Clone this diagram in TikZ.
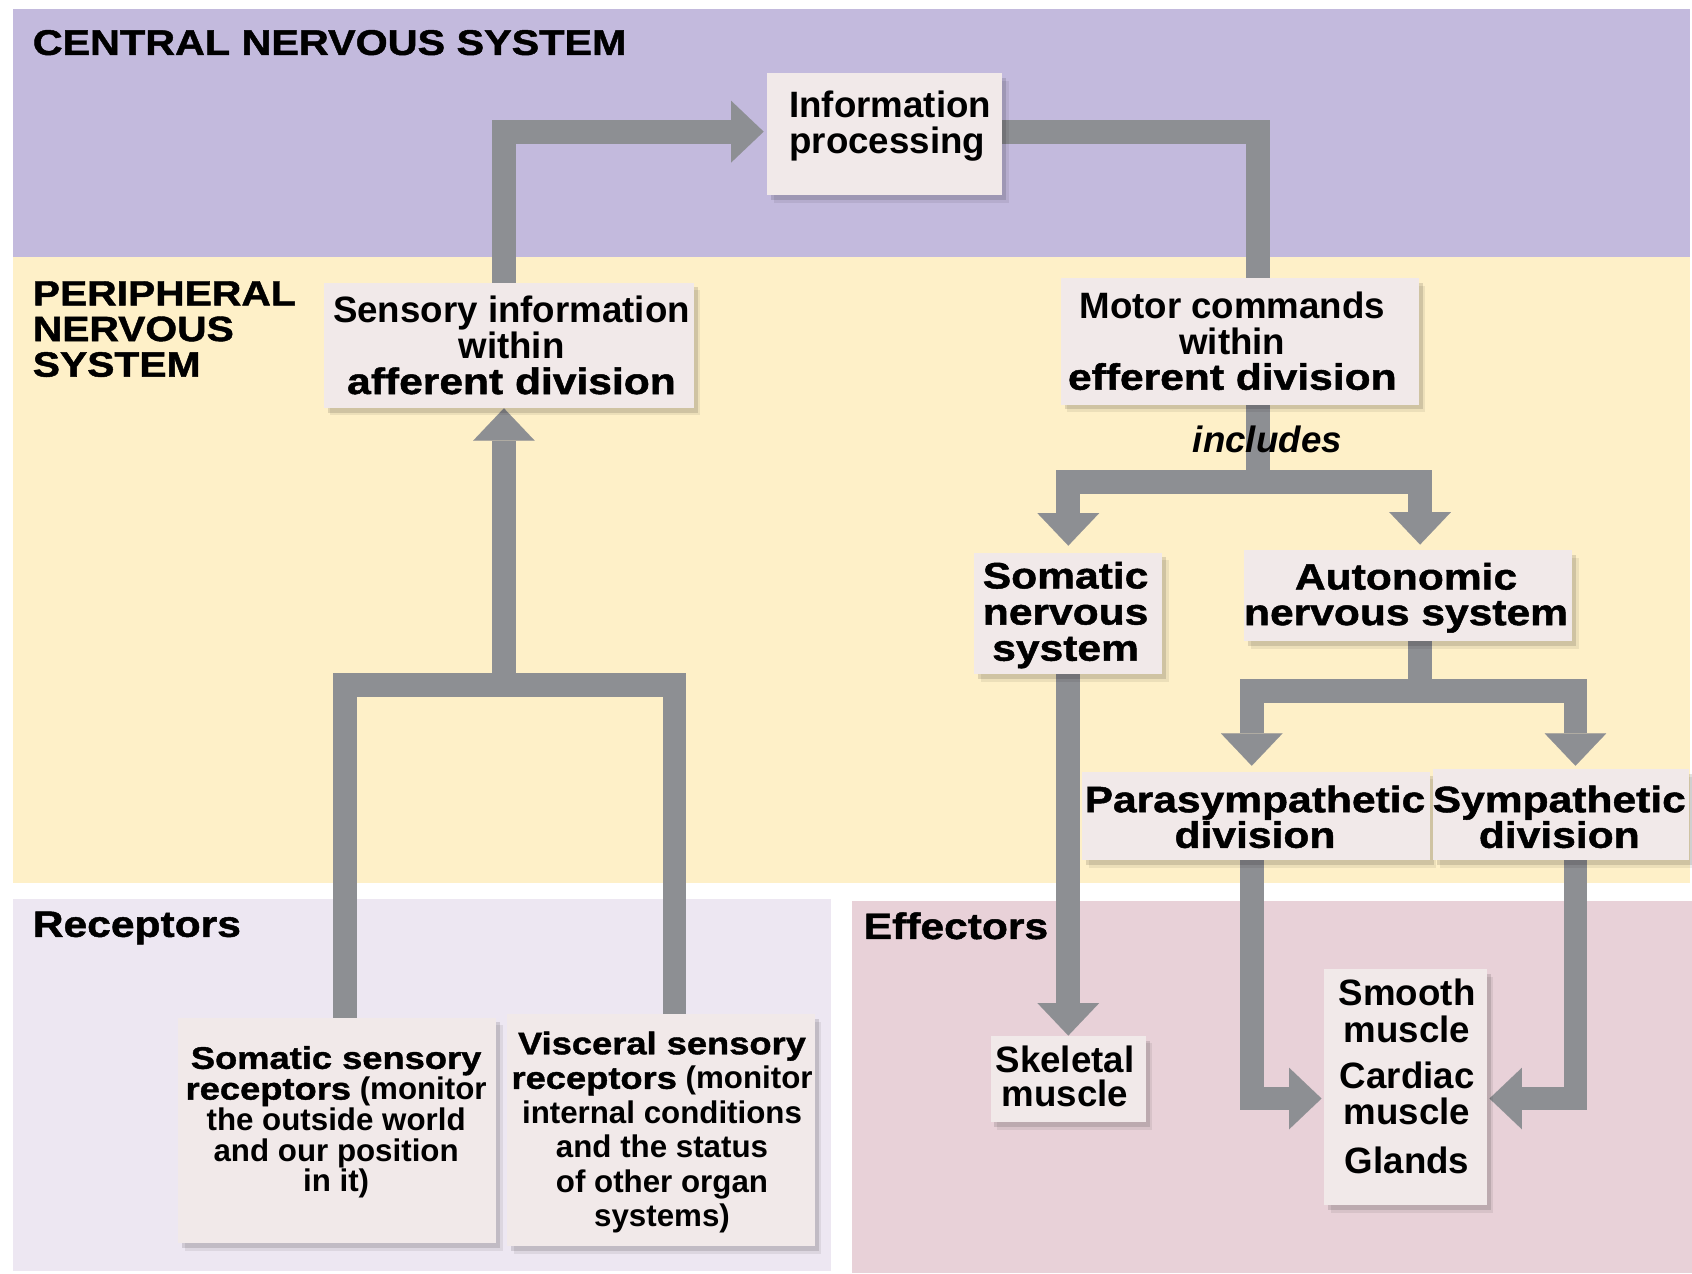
\documentclass[tikz,border=0pt]{standalone}
\usepackage{fontspec}
\setmainfont{Liberation Sans}
\newfontfamily\heavyfam{Liberation Sans}[FakeStretch=1.16,BoldFeatures={FakeBold=1.3}]
\usetikzlibrary{arrows.meta,shadows,calc}
\definecolor{cnsbg}{RGB}{195,186,221}
\definecolor{pnsbg}{RGB}{254,240,200}
\definecolor{recbg}{RGB}{237,231,242}
\definecolor{effbg}{RGB}{232,209,216}
\definecolor{connc}{RGB}{141,143,147}
\definecolor{boxbg}{RGB}{241,233,233}
\newcommand\hv[1]{{\heavyfam\bfseries #1}}
\pgfdeclarelayer{regions}
\pgfdeclarelayer{links}
\pgfsetlayers{regions,links,main}
\begin{document}
\begin{tikzpicture}[x=0.5pt,y=-0.5pt,
  conn/.style={draw=connc,line width=11pt,line join=miter,line cap=butt},
  headed/.style={-{Triangle[width=28.5pt,length=15pt,line width=0.01pt]}},
  panel/.style={fill=boxbg,draw=none,inner sep=0pt,
    drop shadow={shadow xshift=3pt,shadow yshift=-3.5pt,opacity=0.07,fill=black},
    drop shadow={shadow xshift=1.8pt,shadow yshift=-2.2pt,opacity=0.12,fill=black}},
  txt/.style={inner sep=0pt,align=center,font=\bfseries\fontsize{17}{16.5}\selectfont},
  htxt/.style={inner sep=0pt,align=center,font=\heavyfam\bfseries\fontsize{17}{16.5}\selectfont},
  rtxt/.style={inner sep=0pt,align=center,font=\bfseries\fontsize{14.5}{14.25}\selectfont},
  hdr/.style={inner sep=0pt,anchor=west,font=\heavyfam\bfseries\fontsize{17}{16.5}\selectfont}]
\useasboundingbox (0,0) rectangle (1568,1180);
\begin{pgfonlayer}{regions}
\fill[white] (0,0) rectangle (1568,1180);
\fill[cnsbg] (12,8) rectangle (1566,238);
\fill[pnsbg] (12,238) rectangle (1566,818);
\fill[recbg] (12,833) rectangle (770,1178);
\fill[effbg] (790,835) rectangle (1568,1180);
\end{pgfonlayer}
% region labels
\node[hdr,font=\heavyfam\bfseries\fontsize{16.5}{16.5}\selectfont] (cns) at (30,39.5) {CENTRAL NERVOUS SYSTEM};
\node[hdr,align=left,font=\heavyfam\bfseries\fontsize{16.3}{16.5}\selectfont] (pns) at (30,305) {PERIPHERAL\\NERVOUS\\SYSTEM};
\node[hdr] (rec) at (30,860) {Receptors};
\node[hdr] (effl) at (800,858) {Effectors};
% boxes
\node[panel,minimum width=109pt,minimum height=56.5pt] (info) at (820,124.5) {};
\node[panel,minimum width=171.5pt,minimum height=58pt] (sens) at (471.5,320) {};
\node[panel,minimum width=166pt,minimum height=58.5pt] (motor) at (1149,316.5) {};
\node[panel,minimum width=87pt,minimum height=56.5pt] (soma) at (990,568.5) {};
\node[panel,minimum width=152pt,minimum height=42pt] (auto) at (1305,552) {};
\node[panel,minimum width=161pt,minimum height=41pt] (para) at (1164,756) {};
\node[panel,minimum width=118.5pt,minimum height=42pt] (symp) at (1446.5,755) {};
\node[panel,minimum width=72pt,minimum height=40pt] (skel) at (990,1000) {};
\node[panel,minimum width=75.5pt,minimum height=109.5pt] (eff) at (1302.5,1007.5) {};
\node[panel,minimum width=147.5pt,minimum height=104.5pt] (ssr) at (312.5,1047.5) {};
\node[panel,minimum width=142.5pt,minimum height=107.5pt] (vsr) at (612.5,1047.5) {};
% helper coordinates
\coordinate (xa) at (467,0);
\coordinate (xm) at (1166,0);
\coordinate (xs) at (1316,0);
\coordinate (xp) at (1160,0);
\coordinate (xy) at (1460,0);
\coordinate (xl) at (320,0);
\coordinate (xr) at (625,0);
\coordinate (yb) at (0,1018);
\coordinate (j1) at (1166,447);
\coordinate (j2) at (1316,640);
\coordinate (j3) at (467,635);
% connectors behind the boxes
\begin{pgfonlayer}{links}
\draw[conn,headed] (xa |- sens.center) |- ($(info.west)+(-3,-2.5)$);
\draw[conn] ($(info.center)+(0,-2.5)$) -| (xm |- motor.center);
\draw[conn] (xm |- motor.center) -- (j1);
\draw[conn,headed] (j1) -| ($(soma.north)+(0,-6)$);
\draw[conn,headed] (j1) -| ($(xs |- auto.north)+(0,-5)$);
\draw[conn,headed] (soma.center) -- (skel.north);
\draw[conn] (xs |- auto.center) -- (j2);
\draw[conn,headed] (j2) -| ($(xp |- para.north)+(0,-5)$);
\draw[conn,headed] (j2) -| ($(xy |- symp.north)+(0,-3)$);
\draw[conn,headed] (xp |- para.center) |- ($(eff.west |- yb)+(-2,0)$);
\draw[conn,headed] (xy |- symp.center) |- ($(eff.east |- yb)+(2,0)$);
\draw[conn] (xl |- ssr.center) |- (j3) -| (xr |- vsr.center);
\draw[conn,headed] (j3) -- (xa |- sens.south);
\end{pgfonlayer}
% texts
\node[txt,align=left] (infot) at (825,117) {Information\\processing};
\node[txt] (senst) at (474,320) {Sensory information\\within\\\hv{afferent division}};
\node[txt] (motort) at (1142,316) {Motor commands\\within\\\hv{efferent division}};
\node[inner sep=0pt,font=\bfseries\itshape\fontsize{17}{17}\selectfont] (incl) at (1174.5,407) {includes};
\node[htxt,font=\heavyfam\bfseries\fontsize{17}{16.75}\selectfont] (somat) at (987.5,570) {Somatic\\nervous\\system};
\node[htxt] (autot) at (1303,554) {Autonomic\\nervous system};
\node[htxt] (parat) at (1163,757) {Parasympathetic\\division};
\node[htxt] (sympt) at (1445,757) {Sympathetic\\division};
\node[txt,font=\bfseries\fontsize{17}{16}\selectfont] (skelt) at (987,997.5) {Skeletal\\muscle};
\node[txt,font=\bfseries\fontsize{17}{16.75}\selectfont] (efft) at (1304,997.5) {Smooth\\muscle\\[4.75pt]Cardiac\\muscle\\[5.75pt]Glands};
\node[rtxt] (ssrt) at (311.5,1040) {\hv{Somatic sensory}\\\hv{receptors} (monitor\\the outside world\\and our position\\in it)};
\node[rtxt,font=\bfseries\fontsize{14.5}{16}\selectfont] (vsrt) at (613.5,1049.5) {\hv{Visceral sensory}\\\hv{receptors} (monitor\\internal conditions\\and the status\\of other organ\\systems)};
\end{tikzpicture}
\end{document}
